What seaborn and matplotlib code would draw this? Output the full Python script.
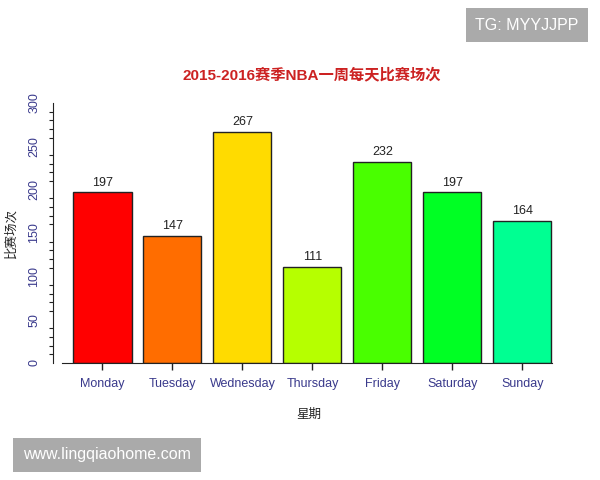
import matplotlib
matplotlib.use("Agg")
import matplotlib.pyplot as plt
import seaborn as sns
import pandas as pd
from matplotlib.ticker import MultipleLocator

# data
days = ['Monday', 'Tuesday', 'Wednesday', 'Thursday', 'Friday', 'Saturday', 'Sunday']
games = [197, 147, 267, 111, 232, 197, 164]
# R rainbow(14)[1:7]
colors = ['#FF0000', '#FF6D00', '#FFDB00', '#B6FF00', '#49FF00', '#00FF24', '#00FF92']

title = '2015-2016赛季NBA一周每天比赛场次'
xlabel = '星期'
ylabel = '比赛场次'

sns.set_style('white')
plt.rcParams['font.family'] = ['Liberation Sans', 'Noto Sans CJK SC']

df = pd.DataFrame({'day': days, 'games': games})

fig = plt.figure(figsize=(6, 4.8), dpi=100)
ax = fig.add_axes([53 / 600, 117 / 480, 512 / 600, 260 / 480])

sns.barplot(data=df, x='day', y='games', hue='day', palette=colors, legend=False,
            width=0.83, edgecolor='#222222', linewidth=1.0, saturation=1, ax=ax)

ax.set_xlim(-0.707, 6.61)
ax.set_ylim(0, 300)

for i, v in enumerate(games):
    ax.text(i, v + 4, str(v), ha='center', va='bottom', fontsize=9, color='#222222')

ax.spines['top'].set_visible(False)
ax.spines['right'].set_visible(False)
ax.spines['left'].set_color('#222222')
ax.spines['bottom'].set_color('#222222')
ax.spines['bottom'].set_bounds(-0.58, 6.42)

ax.yaxis.set_major_locator(MultipleLocator(50))
ax.yaxis.set_minor_locator(MultipleLocator(10))
ax.tick_params(axis='y', which='major', length=6, width=1, color='#222222',
               labelsize=9, labelcolor='#3a3a8c', labelrotation=90, pad=3)
ax.tick_params(axis='y', which='minor', left=True, length=3, width=0.8, color='#222222')
for lab in ax.get_yticklabels():
    lab.set_va('center')
ax.tick_params(axis='x', which='major', bottom=True, length=5, width=1, color='#222222',
               labelsize=9, labelcolor='#3a3a8c', pad=6)

ax.set_xlabel(xlabel, fontsize=9, color='#222222', labelpad=13)
ax.set_ylabel('')
fig.text(11 / 600, 1 - 233 / 480, ylabel, rotation=90, ha='center', va='center',
         fontsize=9, color='#222222')

fig.text(312 / 600, 1 - 75 / 480, title, ha='center', va='center',
         fontsize=11, fontweight='bold', color='#cc2222')

# watermark boxes
fig.text(527 / 600, 1 - 25 / 480, 'TG: MYYJJPP', ha='center', va='center', fontsize=11.5,
         color='white', bbox=dict(boxstyle='square,pad=0.6', facecolor='#aaaaaa', edgecolor='none'))
fig.text(107 / 600, 1 - 455 / 480, 'www.lingqiaohome.com', ha='center', va='center', fontsize=11.5,
         color='white', bbox=dict(boxstyle='square,pad=0.6', facecolor='#aaaaaa', edgecolor='none'))

fig.savefig('out.png', dpi=100)
